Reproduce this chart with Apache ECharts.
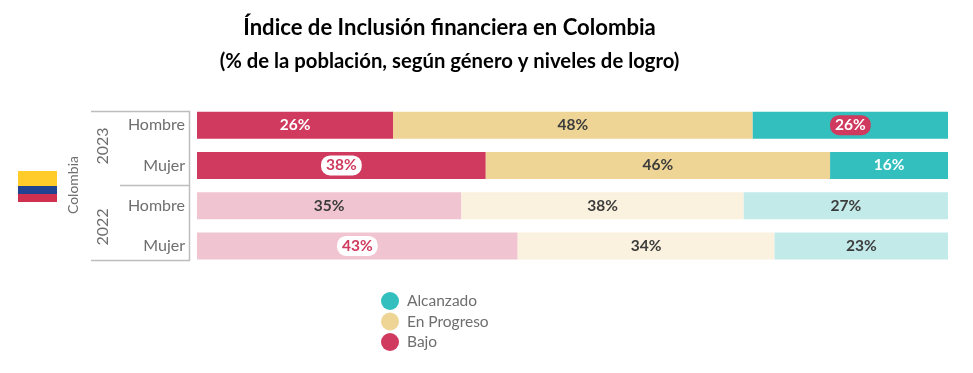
<!DOCTYPE html>
<html>
<head>
<meta charset="utf-8">
<style>
  html, body { margin: 0; padding: 0; background: #fff; }
  #chart { width: 973px; height: 373px; }
</style>
<script src="https://cdn.jsdelivr.net/npm/echarts@6/dist/echarts.min.js"></script>
</head>
<body>
<div id="chart"></div>
<script>
// datos
const categorias = ['Hombre', 'Mujer', 'Hombre', 'Mujer']
const bajo = [26.1, 38.45, 35.2, 42.7]
const enProgreso = [47.9, 45.85, 37.6, 34.2]
const alcanzado = [26.0, 15.7, 27.2, 23.1]
const anios = ['2023', '2022']
const pais = 'Colombia'
const leyenda = ['Alcanzado', 'En Progreso', 'Bajo']

const font = 'Lato'
const rojo = '#CF3A5E'
const oscuro = '#3C3C3C'

// colores: [2023, 2022]
const colores = {
  bajo: [rojo, '#F0C5D1'],
  progreso: ['#EFD595', '#FAF1DF'],
  alcanzado: ['#33BFBE', '#C2EAE9']
}

function etiqueta(texto, pill) {
  const base = { show: true, position: 'inside', color: texto, fontFamily: font, fontWeight: 'bold', fontSize: 15.5 }
  if (pill) {
    return Object.assign(base, pill, { padding: [2, 5, 2, 5], borderRadius: 9 })
  }
  return base
}

function puntos(valores, tonos, texto2023, pills) {
  return valores.map((v, i) => ({
    value: v,
    itemStyle: { color: tonos[i < 2 ? 0 : 1] },
    label: etiqueta(i < 2 ? texto2023 : oscuro, pills[i])
  }))
}

function serie(nombre, color, data) {
  return {
    name: nombre,
    type: 'bar',
    stack: 'total',
    barWidth: 27,
    itemStyle: { color: color },
    label: {
      show: true,
      formatter: p => Math.round(p.value) + '%'
    },
    data: data
  }
}

function linea(x1, y1, x2, y2) {
  return {
    type: 'line',
    shape: { x1, y1, x2, y2 },
    style: { stroke: '#BDBDBD', lineWidth: 1.5 }
  }
}

function vertical(texto, x, y, size) {
  return {
    type: 'text',
    x: x,
    y: y,
    rotation: Math.PI / 2,
    style: { text: texto, fontFamily: font, fontSize: size, fill: '#6E6E6E', align: 'center', verticalAlign: 'middle' }
  }
}

function franja(y, h, fill) {
  return { type: 'rect', shape: { x: 18, y: y, width: 39, height: h }, style: { fill: fill } }
}

const chart = echarts.init(document.getElementById('chart'))

chart.setOption({
  animation: false,
  title: [
    {
      text: 'Índice de Inclusión financiera en Colombia',
      left: 444.5,
      top: 12,
      textAlign: 'center',
      textStyle: { fontFamily: font, fontWeight: 'bold', fontSize: 22.1, color: '#000' }
    },
    {
      text: '(% de la población, según género y niveles de logro)',
      left: 444.5,
      top: 46,
      textAlign: 'center',
      textStyle: { fontFamily: font, fontWeight: 'bold', fontSize: 20.3, color: '#000' }
    }
  ],
  grid: { left: 197, width: 751, top: 105, height: 161 },
  xAxis: { type: 'value', min: 0, max: 100, show: false },
  yAxis: {
    type: 'category',
    inverse: true,
    data: categorias,
    axisLine: { show: false },
    axisTick: { show: false },
    axisLabel: { margin: 12, fontFamily: font, fontSize: 16, color: '#6E6E6E' }
  },
  legend: {
    orient: 'vertical',
    left: 376,
    top: 287,
    itemWidth: 18,
    itemHeight: 18,
    itemGap: 2.5,
    icon: 'circle',
    selectedMode: false,
    data: leyenda,
    textStyle: { fontFamily: font, fontSize: 15.5, color: '#6E6E6E', padding: [0, 0, 0, 3] }
  },
  series: [
    serie('Bajo', colores.bajo[0], puntos(bajo, colores.bajo, '#fff', [
      null,
      { color: rojo, backgroundColor: '#fff' },
      null,
      { color: rojo, backgroundColor: '#fff' }
    ])),
    serie('En Progreso', colores.progreso[0], puntos(enProgreso, colores.progreso, oscuro, [null, null, null, null])),
    serie('Alcanzado', colores.alcanzado[0], puntos(alcanzado, colores.alcanzado, '#fff', [
      { color: '#fff', backgroundColor: rojo },
      null,
      null,
      null
    ]))
  ],
  graphic: [
    franja(171, 15, '#FFCC29'),
    franja(186, 8, '#1F4390'),
    franja(194, 8, '#D0304F'),
    linea(91, 111.5, 190, 111.5),
    linea(120, 185.5, 190, 185.5),
    linea(91, 260.5, 190, 260.5),
    linea(189.5, 111, 189.5, 261),
    vertical(pais, 73, 185, 14),
    vertical(anios[0], 103, 146, 16),
    vertical(anios[1], 103, 227, 16)
  ]
})
</script>
</body>
</html>
